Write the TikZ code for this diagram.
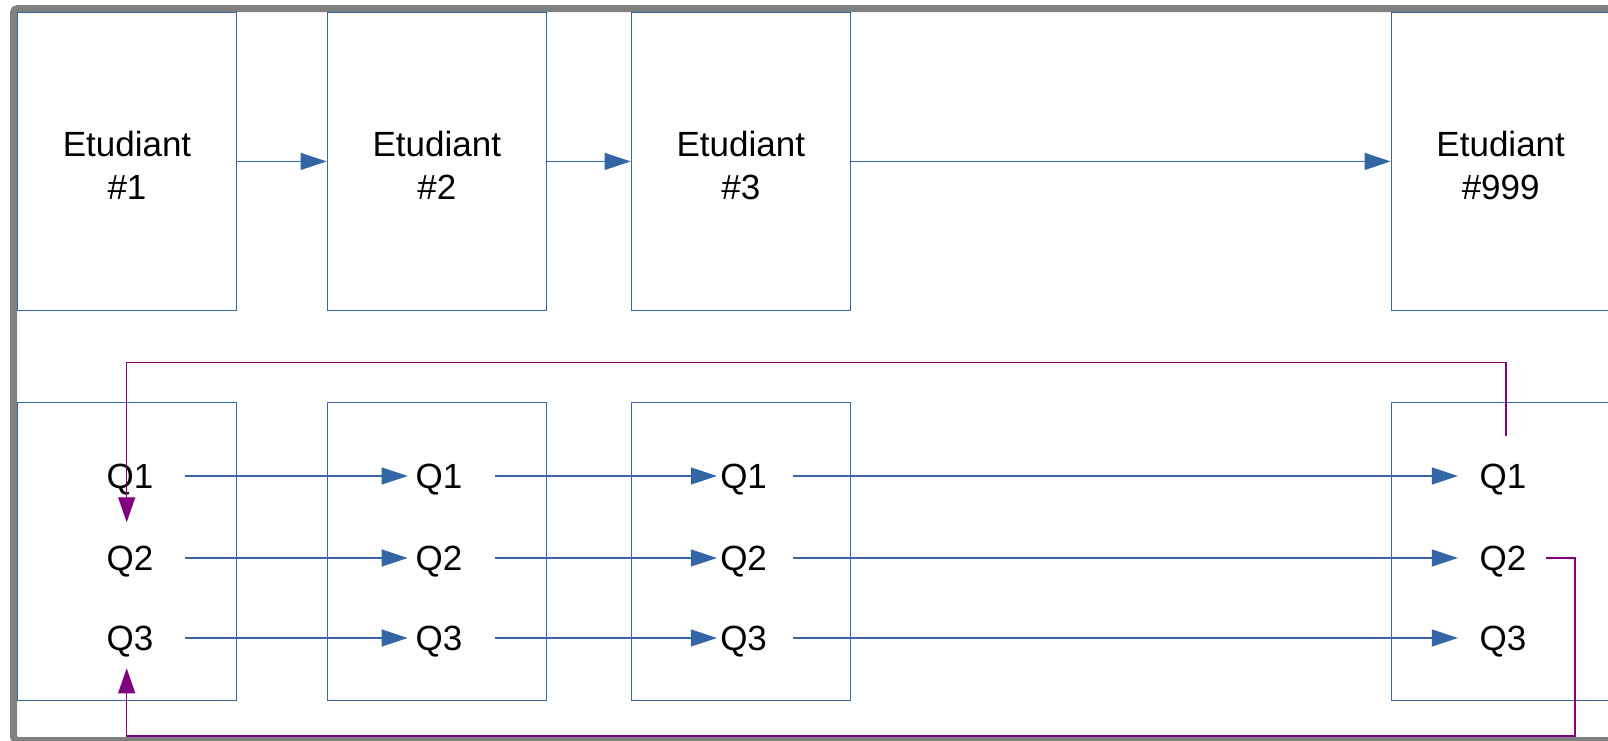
\documentclass[tikz,border=0pt]{standalone}
\usepackage{fontspec}
\setmainfont{Liberation Sans}
\usetikzlibrary{arrows.meta}
\definecolor{lnblue}{RGB}{52,101,164}
\definecolor{lnpurple}{RGB}{128,0,128}
\definecolor{framegray}{RGB}{128,128,128}
\tikzset{
  boxnode/.style={draw=lnblue, line width=0.65pt, minimum width=109.5pt, minimum height=149pt,
    inner sep=0pt},
  boxtext/.style={label={[align=center, yshift=-2.2pt,
    font=\fontsize{17.5pt}{21.5pt}\selectfont]center:#1}},
  qnode/.style={inner sep=0pt, text height=12.6pt, text depth=0pt, anchor=center,
    font=\fontsize{17.5pt}{21.5pt}\selectfont},
  flow/.style={draw=lnblue, line width=0.65pt, -{Triangle[length=13pt,width=8.5pt]}},
  loopback/.style={draw=lnpurple, line width=0.65pt, -{Triangle[length=12.5pt,width=8.5pt]}}
}
\begin{document}
\begin{tikzpicture}[x=0.5pt,y=-0.5pt]
\useasboundingbox (0,0) rectangle (1608,740);
\clip (0,0) rectangle (1608,740);
% outer frame
\draw[framegray, line width=3.5pt, rounded corners=2pt] (13.5,8.5) rectangle (1700,740.5);

% student boxes
\node[boxnode, boxtext={Etudiant\\\#1}] (s1) at (127,161.4) {};
\node[boxnode, boxtext={Etudiant\\\#2}] (s2) at (436.8,161.4) {};
\node[boxnode, boxtext={Etudiant\\\#3}] (s3) at (740.8,161.4) {};
\node[boxnode, boxtext={Etudiant\\\#999}] (s4) at (1500.7,161.4) {};

\draw[flow] (s1.east) -- (s2.west);
\draw[flow] (s2.east) -- (s3.west);
\draw[flow] (s3.east) -- (s4.west);

% question boxes
\node[boxnode] (b1) at (127,551.2) {};
\node[boxnode] (b2) at (436.8,551.2) {};
\node[boxnode] (b3) at (740.8,551.2) {};
\node[boxnode] (b4) at (1500.7,551.2) {};

\foreach \c/\x in {1/130,2/439,3/743.6,4/1503}{
  \node[qnode] (q\c1) at (\x,476) {Q1};
  \node[qnode] (q\c2) at (\x,558) {Q2};
  \node[qnode] (q\c3) at (\x,638) {Q3};
}

\foreach \r in {1,2,3}{
  \draw[flow] ([xshift=15.5pt]q1\r.east) -- ([xshift=-3.8pt]q2\r.west);
  \draw[flow] ([xshift=16.3pt]q2\r.east) -- ([xshift=-1.5pt]q3\r.west);
  \draw[flow] ([xshift=13pt]q3\r.east) -- ([xshift=-10.7pt]q4\r.west);
}

% return paths
\coordinate (top) at (126.7,362.7);
\coordinate (t1) at (126.7,522.3);
\coordinate (corner) at (1575,736);
\coordinate (t2) at (126.7,668.3);
\draw[loopback] ([xshift=1.5pt,yshift=13.35pt]q41.north) |- (top) -- (t1);
\draw[loopback] ([xshift=9.85pt]q42.east) -| (corner) -| (t2);
\end{tikzpicture}
\end{document}
